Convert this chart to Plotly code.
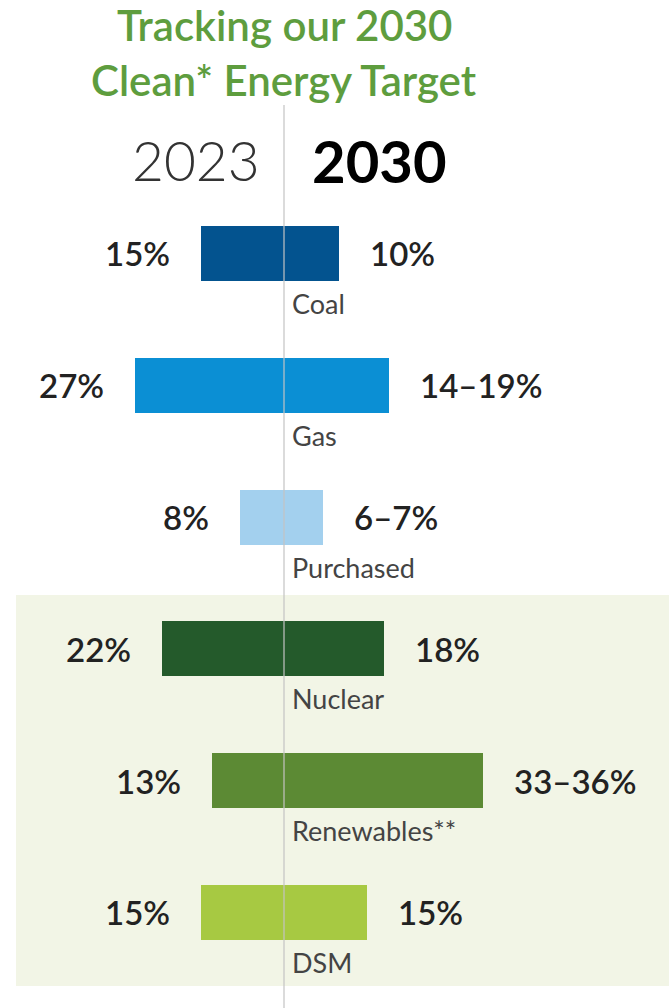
import plotly.graph_objects as go

# ---- data ----
categories = ["Coal", "Gas", "Purchased", "Nuclear", "Renewables**", "DSM"]
share_2023 = [15, 27, 8, 22, 13, 15]
share_2030 = [10, 19, 7, 18, 36, 15]  # upper end of the 2030 range
labels_2023 = ["15%", "27%", "8%", "22%", "13%", "15%"]
labels_2030 = ["10%", "14–19%", "6–7%", "18%", "33–36%", "15%"]
colors = ["#03538f", "#0b8fd4", "#a3d0ee", "#245a2b", "#5c8a34", "#a7c942"]
year_left, year_right = "2023", "2030"
title_lines = ["Tracking our 2030", "Clean* Energy Target"]

W, H = 669, 1008
FONT = "Lato"

fig = go.Figure()
fig.add_trace(go.Bar(
    y=categories, x=[-v for v in share_2023], orientation="h",
    marker=dict(color=colors, line=dict(width=0)), width=0.417,
    hoverinfo="skip", showlegend=False,
))
fig.add_trace(go.Bar(
    y=categories, x=share_2030, orientation="h",
    marker=dict(color=colors, line=dict(width=0)), width=0.417,
    hoverinfo="skip", showlegend=False,
))

ann = []
for c, v1, v2, l1, l2 in zip(categories, share_2023, share_2030, labels_2023, labels_2030):
    ann.append(dict(x=-v1, y=c, text=l1, xanchor="right", yanchor="middle",
                    xshift=-29, showarrow=False,
                    font=dict(family=FONT, size=33, color="#222222", weight=600)))
    ann.append(dict(x=v2, y=c, text=l2, xanchor="left", yanchor="middle",
                    xshift=29, showarrow=False,
                    font=dict(family=FONT, size=33, color="#222222", weight=600)))
    ann.append(dict(x=0, y=c, text=c, xanchor="left", yanchor="middle",
                    xshift=6, yshift=-50, showarrow=False,
                    font=dict(family=FONT, size=27, color="#444444")))

# headers
ann.append(dict(x=0, xref="x", y=1 - 160 / H, yref="paper", text=year_left,
                xanchor="right", yanchor="middle", xshift=-22, showarrow=False,
                font=dict(family=FONT, size=55, color="#333333", weight=300)))
ann.append(dict(x=0, xref="x", y=1 - 160 / H, yref="paper", text="<b>" + year_right + "</b>",
                xanchor="left", yanchor="middle", xshift=26, showarrow=False,
                font=dict(family=FONT, size=58, color="#000000")))
# title
for i, t in enumerate(title_lines):
    ann.append(dict(x=0, xref="x", y=1 - (25 + 55 * i) / H, yref="paper", text=t,
                    xanchor="center", yanchor="middle", showarrow=False,
                    font=dict(family=FONT, size=42, color="#5e9d3e", weight=600)))

shapes = [
    dict(type="rect", xref="paper", yref="paper", x0=16 / W, x1=1,
         y0=1 - 986 / H, y1=1 - 595 / H, fillcolor="#f2f5e6",
         line=dict(width=0), layer="below"),
    dict(type="line", xref="x", yref="paper", x0=0, x1=0, y0=0, y1=1 - 105 / H,
         line=dict(color="rgba(195,195,195,0.8)", width=1.5), layer="above"),
]

px_per = 5.53
fig.update_layout(
    width=W, height=H,
    margin=dict(l=0, r=0, t=0, b=0),
    paper_bgcolor="white", plot_bgcolor="rgba(0,0,0,0)",
    barmode="overlay", bargap=0,
    xaxis=dict(range=[-284 / px_per, (W - 284) / px_per], visible=False, fixedrange=True),
    yaxis=dict(range=[5.725, -1.923], visible=False, fixedrange=True,
               categoryorder="array", categoryarray=categories),
    annotations=ann, shapes=shapes,
)

fig.write_html("out.html", config={"displayModeBar": False},
               post_script="document.body.style.margin='0';")
